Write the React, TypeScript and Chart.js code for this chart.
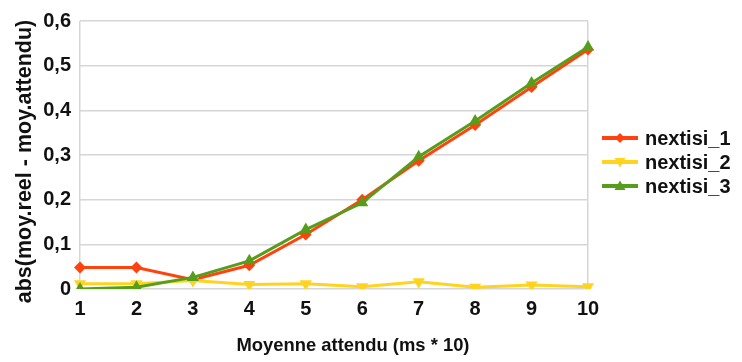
import React, { useEffect, useRef } from "react";
import { Chart, registerables } from "chart.js";

Chart.register(...registerables);

const categories = ["1", "2", "3", "4", "5", "6", "7", "8", "9", "10"];
const nextisi1 = [0.048, 0.048, 0.021, 0.053, 0.122, 0.2, 0.287, 0.367, 0.452, 0.536];
const nextisi2 = [0.012, 0.012, 0.019, 0.01, 0.012, 0.005, 0.016, 0.004, 0.009, 0.005];
const nextisi3 = [0.0, 0.004, 0.026, 0.063, 0.133, 0.193, 0.296, 0.376, 0.461, 0.542];
const seriesNames = ["nextisi_1", "nextisi_2", "nextisi_3"];
const yTicks = [0, 0.1, 0.2, 0.3, 0.4, 0.5, 0.6];
const xTitle = "Moyenne attendu (ms * 10)";
const yTitle = "abs(moy.reel - moy.attendu)";

const RED = "#ff420e";
const YELLOW = "#ffd320";
const GREEN = "#579d1c";
const FONT = "'Liberation Sans', Arial, sans-serif";
const TEXT = "#111111";
const GRID = "#d6d6d6";

function drawMarker(ctx: CanvasRenderingContext2D, style: string, rot: number, x: number, y: number, r: number) {
  ctx.save();
  ctx.translate(x, y);
  ctx.rotate((rot * Math.PI) / 180);
  ctx.beginPath();
  if (style === "rectRot") {
    ctx.moveTo(0, -r);
    ctx.lineTo(r, 0);
    ctx.lineTo(0, r);
    ctx.lineTo(-r, 0);
  } else {
    ctx.moveTo(0, -r * 1.1);
    ctx.lineTo(r * 1.1, r * 0.8);
    ctx.lineTo(-r * 1.1, r * 0.8);
  }
  ctx.closePath();
  ctx.fill();
  ctx.restore();
}

const legendPlugin = {
  id: "customLegend",
  afterDraw(chart: any) {
    const ctx = chart.ctx;
    const items = [
      { name: seriesNames[0], color: RED, style: "rectRot", rot: 0 },
      { name: seriesNames[1], color: YELLOW, style: "triangle", rot: 180 },
      { name: seriesNames[2], color: GREEN, style: "triangle", rot: 0 },
    ];
    const x0 = 602;
    const x1 = 638;
    const ys = [138, 162, 186];
    ctx.save();
    items.forEach((it, i) => {
      const y = ys[i];
      ctx.strokeStyle = it.color;
      ctx.lineWidth = 4;
      ctx.beginPath();
      ctx.moveTo(x0, y);
      ctx.lineTo(x1, y);
      ctx.stroke();
      ctx.fillStyle = it.color;
      drawMarker(ctx, it.style, it.rot, (x0 + x1) / 2, y, 5);
      ctx.fillStyle = TEXT;
      ctx.font = `bold 20px ${FONT}`;
      ctx.textBaseline = "middle";
      ctx.textAlign = "left";
      ctx.fillText(it.name, 645, y + 1);
    });

    // axis titles
    ctx.fillStyle = TEXT;
    ctx.textAlign = "center";
    ctx.textBaseline = "middle";
    ctx.font = `bold 18.4px ${FONT}`;
    ctx.fillText(xTitle, 353, 346);

    ctx.save();
    ctx.translate(25, 161.5);
    ctx.rotate(-Math.PI / 2);
    ctx.font = `bold 21.5px ${FONT}`;
    ctx.fillText(yTitle, 0, 0);
    ctx.restore();

    ctx.restore();
  },
};

export default function App() {
  const ref = useRef<HTMLCanvasElement | null>(null);
  useEffect(() => {
    if (!ref.current) return;
    const chart = new Chart(ref.current, {
      type: "line",
      data: {
        labels: categories,
        datasets: [
          {
            label: seriesNames[0],
            data: nextisi1,
            borderColor: RED,
            backgroundColor: RED,
            borderWidth: 3,
            pointStyle: "rectRot",
            pointRadius: 6,
            pointBorderWidth: 0,
            order: 2,
          },
          {
            label: seriesNames[1],
            data: nextisi2,
            borderColor: YELLOW,
            backgroundColor: YELLOW,
            borderWidth: 3,
            pointStyle: "triangle",
            pointRotation: 180,
            pointRadius: 7,
            pointBorderWidth: 0,
            order: 1,
          },
          {
            label: seriesNames[2],
            data: nextisi3,
            borderColor: GREEN,
            backgroundColor: GREEN,
            borderWidth: 3,
            pointStyle: "triangle",
            pointRadius: 7,
            pointBorderWidth: 0,
            order: 0,
          },
        ],
      },
      options: {
        animation: false,
        responsive: false,
        maintainAspectRatio: false,
        layout: { padding: { left: 0, right: 154, top: 18, bottom: 0 } },
        plugins: {
          legend: { display: false },
          tooltip: { enabled: false },
        },
        scales: {
          x: {
            type: "category",
            offset: false,
            grid: {
              drawTicks: false,
              color: (c: any) => (c.index === 0 || c.index === categories.length - 1 ? GRID : "rgba(0,0,0,0)"),
              lineWidth: 1.5,
            },
            border: { display: false },
            ticks: {
              padding: 8,
              color: TEXT,
              font: { family: FONT, size: 20, weight: "bold" },
              maxRotation: 0,
              autoSkip: false,
            },
            afterFit: (s: any) => {
              s.height = 362 - 289;
            },
          },
          y: {
            min: 0,
            max: 0.6,
            afterBuildTicks: (s: any) => {
              s.ticks = yTicks.map((v) => ({ value: v }));
            },
            grid: { drawTicks: false, color: GRID, lineWidth: 1.5 },
            border: { display: false },
            ticks: {
              padding: 9,
              color: TEXT,
              font: { family: FONT, size: 20, weight: "bold" },
              callback: (v: any) => (v === 0 ? "0" : Number(v).toFixed(1).replace(".", ",")),
            },
            afterFit: (s: any) => {
              s.width = 80;
            },
          },
        },
      },
      plugins: [legendPlugin],
    });
    return () => chart.destroy();
  }, []);
  return (
    <div style={{ position: "absolute", left: 0, top: 0, width: 742, height: 362, background: "#fff" }}>
      <canvas ref={ref} width={742} height={362} style={{ width: 742, height: 362 }} />
    </div>
  );
}
